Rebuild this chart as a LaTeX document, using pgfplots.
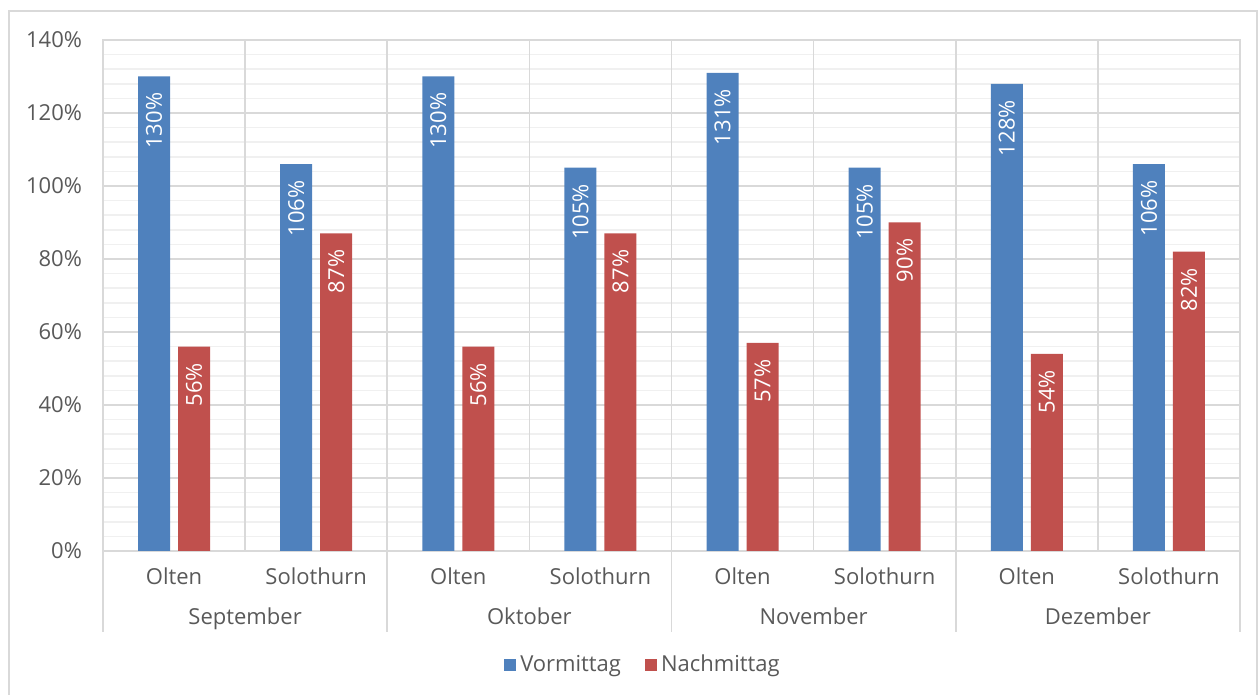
\documentclass[border=0pt]{standalone}
\usepackage{fontspec}
\setmainfont{Open Sans}
\usepackage{pgfplots}
\pgfplotsset{compat=1.18}
\definecolor{cblue}{HTML}{4F81BD}
\definecolor{cred}{HTML}{C0504D}
\definecolor{ctext}{HTML}{595959}
\definecolor{cgrid}{HTML}{D9D9D9}
\definecolor{cminor}{HTML}{F0F0F0}
\begin{document}
\begin{tikzpicture}[x=1pt,y=1pt]
\useasboundingbox (-51.5,-72) rectangle (578.5,275.5);
\draw[cgrid, line width=1pt] (-47,-80) -- (-47,270) -- (577,270) -- (577,-80);
\begin{axis}[
  at={(0,0)}, anchor=south west,
  scale only axis, width=568.5pt, height=255.5pt,
  xmin=-0.5, xmax=7.5, ymin=0, ymax=140,
  ytick={0,20,...,140}, minor y tick num=4,
  ymajorgrids, yminorgrids,
  major grid style={cgrid, line width=0.8pt},
  minor grid style={cminor, line width=0.8pt},
  xtick={0,...,7},
  xticklabels={Olten,Solothurn,Olten,Solothurn,Olten,Solothurn,Olten,Solothurn},
  extra x ticks={0.5,1.5,...,6.5}, extra x tick labels={},
  extra x tick style={grid=major, major tick length=0pt},
  major tick length=0pt, minor tick length=0pt,
  axis line style={cgrid, line width=0.8pt},
  /pgf/number format/assume math mode=true,
  yticklabel={\pgfmathprintnumber{\tick}\%},
  ticklabel style={font=\fontsize{11}{13}\selectfont, text=ctext},
  xticklabel style={anchor=base, yshift=-17pt},
  yticklabel style={anchor=east, xshift=-7pt},
  ybar=4pt, bar width=16pt,
  nodes near coords={\pgfmathprintnumber[fixed,precision=0]{\pgfplotspointmeta}\%},
  every node near coord/.append style={rotate=90, anchor=east, inner xsep=8pt, inner ysep=0pt, text=white, font=\fontsize{11}{13}\selectfont},
  clip=false,
  legend style={draw=none, at={(0.4758,-0.2231)}, anchor=center, legend columns=2,
    font=\fontsize{11}{13}\selectfont, text=ctext,
    /tikz/every even column/.append style={column sep=10pt}},
  legend image code/.code={\fill[#1] (0pt,-3pt) rectangle (6pt,3pt);},
]
\addplot[fill=cblue, draw=none] coordinates {(0,130)(1,106)(2,130)(3,105)(4,131)(5,105)(6,128)(7,106)};
\addplot[fill=cred, draw=none] coordinates {(0,56)(1,87)(2,56)(3,87)(4,57)(5,90)(6,54)(7,82)};
\legend{Vormittag, Nachmittag}
\draw[cgrid, line width=0.8pt] (axis cs:-0.5,0) -- ++(0pt,-40.5pt);
\draw[cgrid, line width=0.8pt] (axis cs:1.5,0) -- ++(0pt,-40.5pt);
\draw[cgrid, line width=0.8pt] (axis cs:3.5,0) -- ++(0pt,-40.5pt);
\draw[cgrid, line width=0.8pt] (axis cs:5.5,0) -- ++(0pt,-40.5pt);
\draw[cgrid, line width=0.8pt] (axis cs:7.5,0) -- ++(0pt,-40.5pt);
\node[anchor=base, font=\fontsize{11}{13}\selectfont, text=ctext, yshift=-37pt] at (axis cs:0.5,0) {September};
\node[anchor=base, font=\fontsize{11}{13}\selectfont, text=ctext, yshift=-37pt] at (axis cs:2.5,0) {Oktober};
\node[anchor=base, font=\fontsize{11}{13}\selectfont, text=ctext, yshift=-37pt] at (axis cs:4.5,0) {November};
\node[anchor=base, font=\fontsize{11}{13}\selectfont, text=ctext, yshift=-37pt] at (axis cs:6.5,0) {Dezember};
\end{axis}
\end{tikzpicture}
\end{document}
